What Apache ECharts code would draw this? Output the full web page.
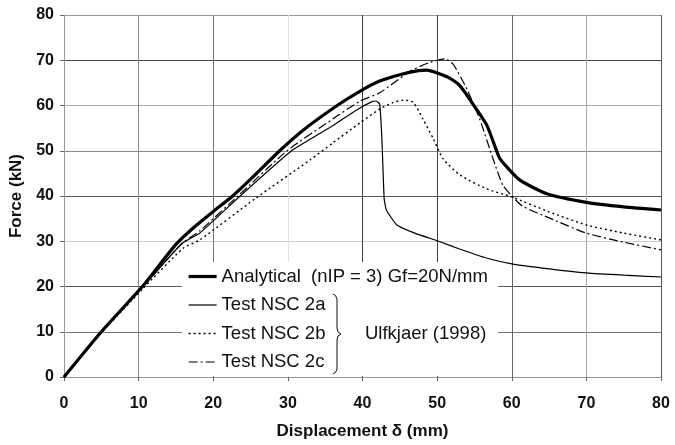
<!DOCTYPE html>
<html>
<head>
<meta charset="utf-8">
<script src="https://cdn.jsdelivr.net/npm/echarts@6/dist/echarts.min.js"></script>
<style>
  html, body { margin: 0; padding: 0; background: #fff; }
  #chart { width: 675px; height: 445px; }
</style>
</head>
<body>
<div id="chart"></div>
<script>
// [displacement mm, force kN]
const analytical = [
  [0, 0], [5, 10], [10.5, 20], [15, 29.3], [17.5, 33.2], [20, 36.6], [22.6, 40], [25.5, 44.5],
  [28.9, 50], [32, 54.5], [36.6, 60], [39.7, 63.2], [42.3, 65.4], [45, 66.8],
  [47.5, 67.7], [48.6, 67.8], [50, 67.2], [51.5, 66.2], [53.1, 64.3], [54.8, 60.3],
  [56.7, 55.5], [58.3, 48.6], [59.3, 46.5], [61.1, 43.5], [64.7, 40.5], [70, 38.6],
  [75, 37.6], [80, 36.9]
];
const testA = [
  [0, 0], [5, 9.8], [10.5, 19.8], [15.8, 29.5], [18.2, 31.8], [23.6, 40], [30.5, 50],
  [36, 55.5], [39, 58.8], [41.2, 60.8], [41.8, 61], [42.3, 60.3], [42.6, 52.6],
  [42.9, 39.5], [43.2, 36.9], [44.6, 33.6], [47, 31.8], [50.2, 30], [53, 28.3],
  [56.6, 26.3], [60, 25], [65, 23.9], [70, 23], [75, 22.5], [80, 22.1]
];
const testB = [
  [0, 0], [5, 9.7], [10.5, 19.4], [16, 28.5], [18.2, 30.3], [25.6, 39.4], [33, 48],
  [36, 51.7], [39.7, 56.2], [42.3, 59.2], [44, 60.6], [45.5, 61.2], [46.8, 60.7],
  [48.1, 57], [49.5, 52.6], [50.8, 48.2], [53.1, 44.6], [56.6, 41.6], [60, 39.8],
  [65, 36.5], [70, 33.6], [75, 31.8], [80, 30.3]
];
const testC = [
  [0, 0], [5, 9.8], [10.5, 19.8], [15.8, 29.5], [18.2, 32.3], [23.3, 40], [29.9, 50],
  [36, 57], [39.7, 61], [42.3, 62.8], [46.4, 67.6], [49, 69.5], [51.1, 70.3],
  [52.2, 69], [54, 63.6], [55.7, 57], [57.5, 48.2], [58.8, 42.4], [60.3, 39.5],
  [61.5, 37.7], [65.1, 35.1], [70, 31.8], [75, 29.8], [80, 28.1]
];
const seriesNames = [
  'Analytical  (nIP = 3) Gf=20N/mm',
  'Test NSC 2a',
  'Test NSC 2b',
  'Test NSC 2c'
];
const sourceLabel = 'Ulfkjaer (1998)';

const font = "'Liberation Sans', Arial, sans-serif";

// curly brace grouping the three tests
const bracePoints = [
  [333, 294], [335.5, 295.5], [337, 299], [337, 328], [338, 332], [341, 334],
  [338, 336], [337, 340], [337, 369], [335.5, 372.5], [333, 374]
];

const lineStyles = [
  { color: '#000', width: 3.2, type: 'solid' },
  { color: '#000', width: 1.2, type: 'solid' },
  { color: '#000', width: 1.4, type: [2, 3] },
  { color: '#000', width: 1.2, type: [9, 3, 2, 3] }
];

const option = {
  animation: false,
  backgroundColor: '#fff',
  grid: { left: 64, right: 14, top: 15, bottom: 65 },
  xAxis: {
    type: 'value',
    min: 0,
    max: 80,
    interval: 10,
    name: 'Displacement δ (mm)',
    nameLocation: 'middle',
    nameGap: 46,
    nameTextStyle: { fontFamily: font, fontWeight: 'bold', fontSize: 17, color: '#111' },
    axisLine: { lineStyle: { color: '#999', width: 1 } },
    axisTick: { show: true, length: 4, lineStyle: { color: '#666' } },
    axisLabel: { margin: 19, fontFamily: font, fontWeight: 'bold', fontSize: 16, color: '#111' },
    splitLine: {
      lineStyle: {
        width: 1,
        color: ['#999', '#888', '#777', '#e2e2e2', '#444', '#444', '#666', '#aaa', '#555']
      }
    }
  },
  yAxis: {
    type: 'value',
    min: 0,
    max: 80,
    interval: 10,
    name: 'Force (kN)',
    nameLocation: 'middle',
    nameGap: 33,
    nameTextStyle: { fontFamily: font, fontWeight: 'bold', fontSize: 17, color: '#111' },
    axisLine: { show: true, lineStyle: { color: '#999', width: 1 } },
    axisTick: { show: true, length: 4, lineStyle: { color: '#666' } },
    axisLabel: { margin: 10, fontFamily: font, fontWeight: 'bold', fontSize: 16, color: '#111' },
    splitLine: {
      lineStyle: {
        width: 1,
        color: ['#bbb', '#777', '#555', '#ccc', '#555', '#888', '#aaa', '#444', '#999']
      }
    }
  },
  legend: {
    orient: 'vertical',
    left: 182,
    top: 262,
    z: 4,
    itemWidth: 28,
    itemHeight: 14,
    itemGap: 9.5,
    data: seriesNames.map((name, i) => ({ name, lineStyle: lineStyles[i] })),
    // hide the marker dot, keep only the line sample
    itemStyle: { color: 'transparent', borderColor: 'transparent', borderWidth: 0, opacity: 0 },
    textStyle: { fontFamily: font, fontSize: 18.5, color: '#111' }
  },
  graphic: [
    {
      type: 'rect',
      z: 3,
      shape: { x: 182, y: 262, width: 316, height: 114 },
      style: { fill: '#fff' }
    },
    {
      type: 'polyline',
      z: 5,
      shape: { points: bracePoints },
      style: { fill: null, stroke: '#111', lineWidth: 1 }
    },
    {
      type: 'text',
      z: 5,
      left: 365,
      top: 324,
      style: { text: sourceLabel, font: '18.5px ' + font, fill: '#111' }
    }
  ],
  series: [
    { name: seriesNames[0], type: 'line', data: analytical, symbol: 'none', smooth: 0.2, lineStyle: lineStyles[0] },
    { name: seriesNames[1], type: 'line', data: testA, symbol: 'none', smooth: 0.15, lineStyle: lineStyles[1] },
    { name: seriesNames[2], type: 'line', data: testB, symbol: 'none', smooth: 0.2, lineStyle: lineStyles[2] },
    { name: seriesNames[3], type: 'line', data: testC, symbol: 'none', smooth: 0.2, lineStyle: lineStyles[3] }
  ].map(s => Object.assign(s, { itemStyle: { color: '#000' } }))
};

const chart = echarts.init(document.getElementById('chart'));
chart.setOption(option);
</script>
</body>
</html>
